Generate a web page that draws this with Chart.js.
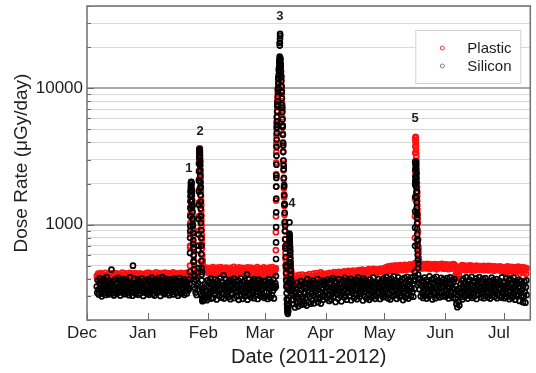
<!DOCTYPE html>
<html><head><meta charset="utf-8">
<script src="https://cdn.jsdelivr.net/npm/chart.js@4.4.1/dist/chart.umd.min.js"></script>
<style>html,body{margin:0;padding:0;background:#fff}#wrap{width:536px;height:373px}</style>
</head><body><div id="wrap"><canvas id="c" width="536" height="373"></canvas></div>
<script>
// ---- axis / text ----
const monthLabels = ['Dec','Jan','Feb','Mar','Apr','May','Jun','Jul'];
const monthStartDay = [0,31,62,91,122,152,183,213];      // days since 2011-12-01
const blockStartDay = [5,31,62,91,122,152,183,213];      // first sample of each monthly block (RAD on Dec 6)
const yTickValues = [200,300,400,500,600,700,800,900,1000,2000,3000,4000,5000,6000,7000,8000,9000,10000,20000,30000,40000];
const yLabelled = [1000,10000];
const xTitle = 'Date (2011-2012)';
const yTitle = 'Dose Rate (\u03bcGy/day)';
const seriesNames = ['Plastic','Silicon'];
const peakLabels = ['1','2','3','4','5'];
const peakLabelDay = [52.0,57.8,98.5,104.7,167.7];
const peakLabelDose = [2600,4780,33400,1420,5980];

// ---- Silicon, one reading every 6 h (4 per day), per month ----
const silDec = [352,318,391,334,307,372,405,341,326,363,298,384,347,312,399,358,331,376,305,344,412,322,366,339,
308,387,351,316,373,329,468,345,313,359,383,303,338,396,324,368,349,311,378,335,407,320,355,392,
302,342,369,327,388,317,361,398,336,309,375,352,321,394,343,315,380,330,304,364,410,339,323,371,
346,301,500,357,319,400,333,362,310,377,348,325,395,306,367,340,385,314,353,328,404,345,370,300,
337,381,318,359,392,324,349,311];
const silJan = [365,329,398,306,343,381,320,356,409,334,372,311,348,389,302,361,327,394,339,315,376,352,405,322,
344,368,300,385,331,358,413,317,350,379,309,337,401,324,363,346,312,390,333,371,304,355,397,328,
361,319,383,342,308,374,336,403,323,357,391,314,347,380,301,366,338,405,326,359,311,387,349,318,
372,335,398,306,363,327,384,345,313,378,352,330,395,341,368,900,1750,2050,1750,1380,1000,720,540,430,
380,340,318,392,305,356,333,371,700,2800,3550,2900,1900,1150,700,450,330,290,282,344,301,368,286,322,
355,279,391,310];
const silFeb = [296,351,384,313,339,402,287,367,324,358,291,378,345,310,396,333,362,283,349,388,318,371,301,340,
405,329,356,292,381,314,347,425,288,364,336,399,305,352,322,376,341,295,386,327,360,284,393,315,
354,309,374,337,402,290,348,366,318,383,299,357,331,391,281,344,370,326,404,303,362,338,286,379,
311,355,389,297,343,368,321,432,282,359,335,397,308,375,346,293,365,328,384,314,351,289,399,337,
301,372,342,322,390,285,361,348,395,316,354,298,380,333,367,306,344,387,291,359];
const silMar = [352,298,387,321,364,285,341,399,316,373,336,291,380,349,305,362,327,395,288,357,343,371,350,2200,
5400,7600,9800,11800,13800,15800,21500,16400,14500,12000,9500,7200,5300,3800,2700,1950,
1400,980,700,490,360,280,240,230,255,330,820,640,460,390,340,310,
280,335,262,358,301,247,322,289,341,268,376,295,252,317,356,273,308,385,259,332,291,364,276,348,
262,319,372,287,343,255,398,305,328,270,361,296,381,263,337,312,352,279,389,301,265,345,320,374,
285,361,331,398,270,309,352,291,377,318,264,345,390,297,336,281,362,306,384,325];
const silApr = [318,371,289,352,396,305,338,276,364,327,391,283,347,312,405,335,296,358,322,384,271,343,376,309,
351,287,398,331,365,302,339,379,274,346,314,392,328,361,293,408,337,303,374,282,356,320,387,345,
299,368,333,401,279,350,316,383,327,362,290,375,341,307,395,354,284,339,410,318,366,297,348,372,
311,385,329,357,278,403,342,300,369,323,390,288,352,335,377,306,344,281,362,396,315,358,292,381,
331,409,302,347,371,286,339,364,298,376,320,355,399,311,345,285,367,330,388,307,351,294,402,338];
const silMay = [356,301,389,332,412,318,367,289,344,396,312,371,283,358,403,327,380,298,349,417,323,365,306,391,
336,286,374,352,410,315,347,295,385,329,362,304,398,341,280,369,318,407,351,292,376,334,415,309,
363,287,395,325,354,382,300,342,411,321,368,296,389,338,420,2100,2850,2400,1750,1180,760,520,400,370,
335,402,298,361,384,316,349,290,377,328,409,305,356,392,287,343,315,386,362,299,418,331,353,307,
396,340,283,372,324,405,311,364,289,351,415,335,377,302,390,320,359,293,381,344,408,317,368,298,
347,399,326,371];
const silJun = [362,297,384,329,406,313,351,288,375,340,411,302,366,321,393,345,290,378,336,399,318,286,355,262,
331,248,305,272,340,256,319,294,368,311,389,283,352,401,326,345,296,374,338,410,309,361,287,383,
349,320,395,300,367,333,414,291,356,386,314,342,298,379,327,404,285,361,337,390,306,353,412,322,
371,293,348,384,316,400,331,289,364,339,406,301,376,325,357,294,388,312,346,379,287,365,333,409,
303,354,392,320,370,296,341,383,328,399,289,358,315,373,344,302,386,334,362,292,411,318,351,376];
const silJul = [337,289,381,312,358,404,296,345,371,318,392,284,350,329,399,305,363,291,377,340,408,315,354,282,
386,327,361,298,373,309,345,393,276,352,318,385,300,367,334,270,358,297,381,322,268,349,390,305];

// ---- Plastic, one reading every 8 h (3 per day), per month ----
const plaDec = [421,398,437,409,428,392,441,415,403,433,411,389,426,444,407,419,396,430,413,438,401,424,393,435,417,406,442,
399,427,412,440,395,422,408,436,416,391,431,404,445,418,397,425,410,439,402,420,434,394,429,414,443,405,423,
390,437,411,426,400,441,419,396,432,408,424,415,439,393,428,403,434,417,412,436,398,427,405,443];
const plaJan = [426,401,444,413,432,397,438,419,407,435,410,392,428,446,405,421,399,433,416,441,403,425,394,437,418,408,445,
400,429,414,442,396,423,410,439,417,393,434,406,447,420,398,427,412,440,404,422,436,395,431,415,444,408,425,
391,438,413,428,402,443,420,397,434,411,426,700,1600,1820,1400,1000,720,540,
470,445,432,448,429,441,700,2900,3500,2370,1420,800,550,490,478,462,485,455,471,448,482];
const plaFeb = [462,438,481,451,429,472,445,488,457,433,476,449,466,427,484,455,441,470,452,489,436,463,478,444,431,468,459,
485,447,474,428,461,439,482,453,467,435,471,458,490,443,464,426,477,450,469,432,486,454,440,475,460,437,483,
448,466,430,479,456,442,487,463,434,473,451,484,439,468,445,480,427,461,455,476,441,489,449,465,436,478,452,
444,470,459,431,486,462];
const plaMar = [458,436,479,447,466,430,484,452,471,441,463,488,449,433,475,456,468,3800,
6100,8100,10100,12100,14100,14900,13100,10200,7100,4650,2800,1670,1020,670,480,395,368,356,
372,520,670,530,450,418,392,405,371,398,366,421,382,409,360,393,428,376,
412,389,364,431,397,372,418,385,404,369,426,392,411,378,434,400,383,419,395,374,437,408,387,424,401,441,380,
416,393,430,405,446,389,422,411,438,399,427,414];
const plaApr = [421,398,437,410,429,403,444,416,434,407,440,425,412,448,419,431,405,443,428,414,451,422,409,446,433,418,439,
412,455,427,441,416,449,430,421,458,436,419,452,428,444,413,461,437,425,447,431,459,420,450,438,464,426,443,
456,433,468,441,452,429,462,448,437,465,444,457,472,439,460,450,469,445,458,475,447,463,452,470,442,467,455,
473,449,466,458,477,451,469,461,446];
const plaMay = [468,449,487,461,476,452,494,470,458,483,465,499,472,455,490,477,462,503,474,488,459,496,481,467,505,478,491,
463,498,485,471,508,480,466,493,476,502,484,470,511,489,475,497,468,506,487,495,2900,4150,2830,1700,1030,660,545,
512,488,503,476,509,492,481,514,497,478,506,490,515,484,500,472,511,494,486,509,477,502,493,513,481,498,470,
507,489,512,495,479,504,491,515,483,499,475,510];
const plaJun = [496,478,512,489,503,471,508,494,482,510,487,499,475,513,491,504,428,412,437,405,446,423,458,481,497,472,506,
489,468,501,479,493,462,498,484,470,495,476,503,465,490,482,499,471,487,461,494,478,500,467,486,492,473,497,
480,466,495,488,474,499,463,491,477,493,470,484,498,462,489,475,496,481,468,492,483,459,494,476,487,465,490,
473,486,464,495,479,460,488,471,484];
const plaJul = [476,452,489,463,481,447,494,468,458,485,442,472,490,455,479,461,487,446,
470,483,451,476,492,459,438,481,466,453,488,462,474,445,484,469,436,478];

// ---- fast-cadence readings during solar particle events: [day, dose] ----
const silEvents = [
[52.6,450],[52.65,620],[52.7,800],[52.75,980],[52.8,1150],[52.85,1320],[52.9,1480],[52.95,1620],[53.0,1750],[53.05,1860],[53.1,1950],[53.15,2020],[53.2,2060],[53.3,2030],[53.4,1940],[53.5,1800],[53.6,1650],[53.7,1500],[53.8,1360],[53.9,1230],[54.0,1100],[54.1,980],[54.2,870],[54.3,770],[54.4,680],[54.5,600],[54.6,530],[54.7,470],[54.8,420],
[56.9,480],[56.95,650],[57.0,850],[57.05,1100],[57.1,1400],[57.15,1750],[57.2,2100],[57.25,2450],[57.3,2800],[57.35,3100],[57.4,3350],[57.45,3500],[57.5,3580],[57.55,3520],[57.6,3380],[57.65,3200],[57.7,2980],[57.75,2740],[57.8,2500],[57.85,2270],[57.9,2050],[57.95,1840],[58.0,1650],[58.05,1470],[58.1,1310],[58.15,1160],[58.2,1030],[58.25,910],[58.3,800],[58.35,700],[58.4,610],[58.45,540],[58.5,480],[58.55,430],[58.6,390],[58.7,340],[58.8,300],[58.9,280],[59.0,275],
[96.55,420],[96.58,560],[96.61,740],[96.64,960],[96.67,1230],[96.7,1550],[96.73,1900],[96.76,2300],[96.79,2750],[96.82,3200],[96.86,3700],[96.9,4200],[96.95,4700],[97.0,5200],[97.05,5700],[97.1,6200],[97.2,6800],[97.3,7400],[97.4,8000],[97.5,8700],[97.6,9400],[97.7,10100],[97.8,10900],[97.9,11700],[98.0,12500],[98.1,13400],[98.2,14300],[98.3,15300],[98.4,16300],[98.45,17000],[98.5,20500],[98.55,21500],[98.6,23000],[98.65,25000],[98.7,24200],
[98.75,16600],[98.8,16000],[98.9,15200],[99.0,14300],[99.1,13300],[99.2,12300],[99.3,11300],[99.4,10300],[99.5,9300],[99.6,8400],[99.7,7500],[99.8,6700],[99.9,5900],[100.0,5200],[100.1,4550],[100.2,3950],[100.3,3400],[100.4,2950],[100.5,2550],[100.6,2200],[100.7,1900],[100.8,1640],[100.9,1420],[101.0,1220],[101.1,1050],[101.2,900],[101.3,780],[101.4,670],[101.5,580],[101.6,500],[101.7,440],[101.8,390],[101.9,350],[102.0,315],[102.1,285],[102.2,262],[102.3,245],[102.4,235],[102.5,228],[102.6,222],[102.7,232],[102.8,245],[102.9,262],[103.0,280],
[103.25,380],[103.3,520],[103.35,680],[103.4,860],[103.45,1040],[103.5,840],[103.55,800],[103.6,760],[103.65,720],[103.7,680],[103.75,640],[103.8,600],[103.85,565],[103.9,530],[103.95,500],[104.0,470],[104.1,430],[104.2,400],[104.3,370],[104.4,345],[104.5,325],
[167.55,450],[167.6,700],[167.63,950],[167.66,1250],[167.7,1600],[167.73,1950],[167.76,2250],[167.8,2550],[167.85,2780],[167.9,2900],[167.95,2870],[168.0,2780],[168.05,2650],[168.1,2500],[168.15,2340],[168.2,2180],[168.25,2020],[168.3,1870],[168.35,1720],[168.4,1580],[168.45,1450],[168.5,1330],[168.55,1220],[168.6,1120],[168.65,1020],[168.7,930],[168.75,850],[168.8,780],[168.85,710],[168.9,650],[168.95,600],[169.0,550],[169.1,480],[169.2,430],[169.3,400]
];
const plaEvents = [
[52.65,500],[52.7,680],[52.75,860],[52.8,1030],[52.85,1200],[52.9,1350],[52.95,1490],[53.0,1600],[53.05,1700],[53.1,1780],[53.2,1850],[53.3,1830],[53.4,1760],[53.5,1650],[53.6,1530],[53.7,1400],[53.8,1270],[53.9,1150],[54.0,1040],[54.1,930],[54.2,830],[54.3,740],[54.4,660],[54.5,590],[54.6,540],[54.7,500],[54.8,470],
[56.95,520],[57.0,700],[57.05,900],[57.1,1150],[57.15,1450],[57.2,1800],[57.25,2150],[57.3,2500],[57.35,2850],[57.4,3150],[57.45,3400],[57.5,3550],[57.55,3620],[57.6,3600],[57.65,3520],[57.7,3400],[57.75,3250],[57.8,3080],[57.85,2900],[57.9,2720],[57.95,2540],[58.0,2370],[58.05,2200],[58.1,2040],[58.15,1890],[58.2,1750],[58.25,1620],[58.3,1500],[58.35,1380],[58.4,1270],[58.45,1170],[58.5,1080],[58.55,990],[58.6,910],[58.65,840],[58.7,780],[58.75,720],[58.8,670],[58.9,600],[59.0,550],[59.1,515],[59.2,495],
[96.45,480],[96.48,650],[96.51,880],[96.54,1150],[96.57,1500],[96.6,1900],[96.63,2350],[96.66,2850],[96.7,3400],[96.75,3950],[96.8,4500],[96.86,5050],[96.93,5600],[97.0,6100],[97.1,6700],[97.2,7300],[97.3,7900],[97.4,8500],[97.5,9100],[97.6,9700],[97.7,10300],[97.8,10900],[97.9,11500],[98.0,12100],[98.1,12700],[98.2,13300],[98.3,13900],[98.4,14400],[98.5,14800],[98.6,15000],[98.7,14800],[98.8,14400],[98.9,13800],[99.0,13100],[99.1,12300],[99.2,11400],[99.3,10500],[99.4,9600],[99.5,8700],[99.6,7800],[99.7,6900],[99.8,6100],[99.9,5350],[100.0,4650],[100.1,4000],[100.2,3450],[100.3,2950],[100.4,2500],[100.5,2150],[100.6,1850],[100.7,1590],[100.8,1370],[100.9,1180],[101.0,1020],[101.1,890],[101.2,780],[101.3,690],[101.4,620],[101.5,560],[101.6,510],[101.7,470],[101.8,440],[101.9,415],[102.0,395],[102.2,375],[102.4,362],[102.6,355],
[103.3,450],[103.35,560],[103.4,660],[103.45,740],[103.5,790],[103.55,770],[103.6,740],[103.65,710],[103.7,680],[103.75,650],[103.8,620],[103.9,570],[104.0,530],[104.1,500],[104.2,475],[104.3,455],[104.4,440],
[167.5,520],[167.53,800],[167.56,1150],[167.59,1550],[167.62,2000],[167.65,2450],[167.68,2900],[167.72,3350],[167.76,3750],[167.8,4100],[167.85,4350],[167.9,4400],[167.95,4300],[168.0,4150],[168.05,3950],[168.1,3750],[168.15,3550],[168.2,3350],[168.25,3150],[168.3,2950],[168.35,2750],[168.4,2560],[168.45,2380],[168.5,2200],[168.55,2040],[168.6,1890],[168.65,1750],[168.7,1620],[168.75,1500],[168.8,1390],[168.85,1290],[168.9,1200],[168.95,1110],[169.0,1030],[169.1,890],[169.2,780],[169.3,690],[169.4,620],[169.5,570],[169.6,530]
];

// ---- build point lists ----
function buildSeries(blocks, step, events){
  const pts = [];
  blocks.forEach((arr, m) => arr.forEach((v, i) => pts.push({x: blockStartDay[m] + i * step, y: v})));
  events.forEach(p => pts.push({x: p[0], y: p[1]}));
  return pts;
}
const siliconPts = buildSeries([silDec,silJan,silFeb,silMar,silApr,silMay,silJun,silJul], 0.25, silEvents);
const plasticPts = buildSeries([plaDec,plaJan,plaFeb,plaMar,plaApr,plaMay,plaJun,plaJul], 1/3, plaEvents);

const FONT = "'Liberation Sans', Arial, Helvetica, sans-serif";
const TXT = '#1e1e1e';

const decor = {
  id: 'decor',
  afterDatasetsDraw(chart){
    const {ctx, chartArea: a, scales: {x, y}} = chart;
    ctx.save();
    // inward tick marks
    ctx.strokeStyle = '#6a6a6a'; ctx.lineWidth = 1;
    ctx.beginPath();
    monthStartDay.forEach(d => { const px = Math.round(x.getPixelForValue(d)) + 0.5; ctx.moveTo(px, a.bottom); ctx.lineTo(px, a.bottom - 7); });
    yTickValues.forEach(v => { const py = Math.round(y.getPixelForValue(v)) + 0.5; const len = yLabelled.includes(v) ? 7 : 4; ctx.moveTo(a.left, py); ctx.lineTo(a.left + len, py); });
    ctx.stroke();
    // frame
    ctx.strokeStyle = '#707070'; ctx.lineWidth = 1.5;
    ctx.strokeRect(a.left, a.top, a.right - a.left, a.bottom - a.top);
    // event numbers
    ctx.fillStyle = TXT; ctx.font = 'bold 13px ' + FONT; ctx.textAlign = 'center'; ctx.textBaseline = 'middle';
    peakLabels.forEach((t, i) => ctx.fillText(t, x.getPixelForValue(peakLabelDay[i]), y.getPixelForValue(peakLabelDose[i])));
    // legend
    const lx = a.right - 115, ly = a.top + 24, lw = 105, lh = 53;
    ctx.fillStyle = '#fff'; ctx.fillRect(lx, ly, lw, lh);
    ctx.strokeStyle = '#d0d0d0'; ctx.lineWidth = 1; ctx.strokeRect(lx + 0.5, ly + 0.5, lw, lh);
    const markerColors = ['#ff3030', '#808080'];
    ctx.font = '15px ' + FONT; ctx.textAlign = 'left';
    seriesNames.forEach((n, i) => {
      const ry = ly + 18 + i * 18;
      ctx.beginPath(); ctx.strokeStyle = markerColors[i]; ctx.lineWidth = 1;
      ctx.arc(lx + 27, ry, 2, 0, Math.PI * 2); ctx.stroke();
      ctx.fillStyle = TXT; ctx.fillText(n, lx + 52, ry + 1);
    });
    ctx.restore();
  }
};

new Chart(document.getElementById('c'), {
  type: 'scatter',
  data: { datasets: [
    { label: seriesNames[0], data: plasticPts, pointBorderColor: '#ff1010', pointBackgroundColor: 'rgba(0,0,0,0)', pointRadius: 2.5, pointBorderWidth: 1.7, order: 1 },
    { label: seriesNames[1], data: siliconPts, pointBorderColor: '#000000', pointBackgroundColor: 'rgba(0,0,0,0)', pointRadius: 2.5, pointBorderWidth: 1.7, order: 0 }
  ]},
  options: {
    responsive: false, animation: false, devicePixelRatio: 1, events: [],
    layout: { padding: { top: 6, right: 2, left: 0, bottom: 0 } },
    plugins: { legend: { display: false }, tooltip: { enabled: false } },
    scales: {
      x: {
        type: 'linear', min: 0, max: 226.5,
        afterBuildTicks: s => { s.ticks = monthStartDay.map(v => ({ value: v })); },
        afterFit: s => { s.height = 53; s.paddingLeft = 0; s.paddingRight = 0; },
        ticks: { callback: (v, i) => monthLabels[i], font: { family: FONT, size: 17 }, color: TXT, padding: 3, maxRotation: 0, autoSkip: false, labelOffset: -5 },
        grid: { display: false, drawTicks: false },
        border: { display: false },
        title: { display: true, text: xTitle, font: { family: FONT, size: 20 }, color: TXT, padding: { top: 0, bottom: 4 } }
      },
      y: {
        type: 'logarithmic', min: 200, max: 40000,
        afterBuildTicks: s => { s.ticks = yTickValues.map(v => ({ value: v })); },
        afterFit: s => { s.width = 87; s.paddingTop = 0; s.paddingBottom = 0; },
        ticks: { callback: v => yLabelled.includes(v) ? String(v) : '', font: { family: FONT, size: 17 }, color: TXT, padding: 4, autoSkip: false },
        grid: { drawTicks: false, color: c => yLabelled.includes(c.tick && c.tick.value) ? '#a8a8a8' : '#d8d8d8', lineWidth: c => yLabelled.includes(c.tick && c.tick.value) ? 2 : 1 },
        border: { display: false },
        title: { display: true, text: yTitle, font: { family: FONT, size: 19 }, color: TXT, padding: { top: 10, bottom: 0 } }
      }
    }
  },
  plugins: [decor]
});
</script></body></html>
